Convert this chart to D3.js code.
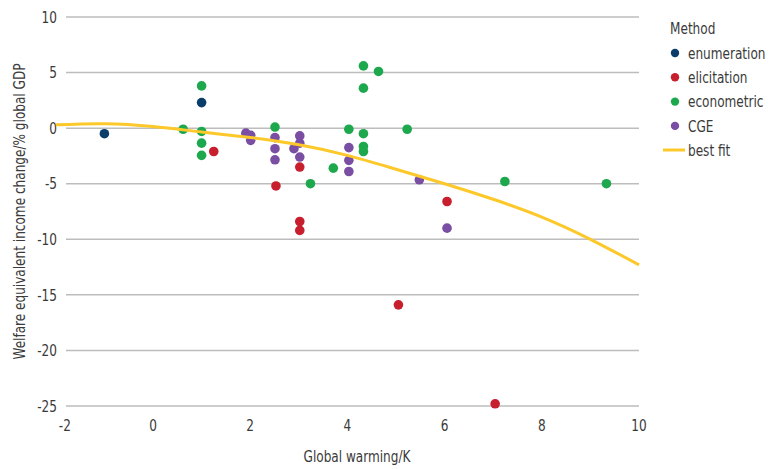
<!DOCTYPE html>
<html>
<head>
<meta charset="utf-8">
<script src="https://cdn.jsdelivr.net/npm/d3@7"></script>
<style>
  body { margin: 0; background: #fff; }
  text { font-family: "DejaVu Sans", sans-serif; font-stretch: condensed; fill: #3a3a3a; }
</style>
</head>
<body>
<div class="chart"></div>
<script>
// Data
var methods = ["enumeration", "elicitation", "econometric", "CGE"];
var methodColors = ["#0b3d6b", "#c71f2e", "#1ea84d", "#7a4ea3"];

var enumerationX = [-1, 1];
var enumerationY = [-0.5, 2.3];

var elicitationX = [1.25, 2.53, 3.02, 3.02, 3.02, 5.05, 6.05, 7.04];
var elicitationY = [-2.1, -5.2, -3.5, -8.4, -9.2, -15.9, -6.6, -24.8];

var econometricX = [0.62, 1, 1, 1, 1, 2.51, 3.24, 3.71, 4.03, 4.33, 4.33, 4.33, 4.33, 4.33, 4.64, 5.23, 7.24, 9.33];
var econometricY = [-0.1, 3.8, -0.3, -1.35, -2.45, 0.1, -5, -3.6, -0.1, 5.6, 3.6, -0.5, -1.65, -2.1, 5.1, -0.1, -4.8, -5];

var cgeX = [1.91, 2.01, 2.01, 2.51, 2.51, 2.51, 2.9, 3.02, 3.02, 3.02, 4.03, 4.03, 4.03, 5.48, 6.05];
var cgeY = [-0.45, -0.65, -1.1, -0.85, -1.85, -2.85, -1.85, -0.7, -1.35, -2.6, -1.75, -2.9, -3.9, -4.65, -9];

var fitX = [-2, -1, 0, 1, 2, 3, 4, 5, 6, 7, 8, 9, 10];
var fitY = [0.3, 0.4, 0.15, -0.35, -0.85, -1.5, -2.45, -3.7, -5, -6.4, -8, -10, -12.3];

var xTicks = [-2, 0, 2, 4, 6, 8, 10];
var yTicks = [10, 5, 0, -5, -10, -15, -20, -25];

var svgWidth = 769;
var svgHeight = 469;
var fontSize = "16px";

var svg = d3.select(".chart")
  .append("svg")
  .attr("width", svgWidth)
  .attr("height", svgHeight);

var xScale = d3.scaleLinear().domain([-2, 10]).range([55.8, 639]);
var yScale = d3.scaleLinear().domain([-25, 10]).range([406, 17]);
var gridLeft = 66;

// gridlines
svg.append("g").selectAll("line")
  .data(yTicks)
  .enter()
  .append("line")
  .attr("x1", gridLeft)
  .attr("x2", xScale(10))
  .attr("y1", d => yScale(d))
  .attr("y2", d => yScale(d))
  .attr("stroke", "#bdbdbd")
  .attr("stroke-width", 1.5);

// y tick labels
svg.append("g").selectAll("text")
  .data(yTicks)
  .enter()
  .append("text")
  .attr("x", 57)
  .attr("y", d => yScale(d))
  .attr("dy", "0.36em")
  .attr("text-anchor", "end")
  .attr("font-size", fontSize)
  .text(d => d);

// x tick labels
svg.append("g").selectAll("text")
  .data(xTicks)
  .enter()
  .append("text")
  .attr("x", (d, i) => xScale(d) + (i === 0 ? 9 : 0))
  .attr("y", 431)
  .attr("text-anchor", "middle")
  .attr("font-size", fontSize)
  .text(d => d);

// points
var groups = [
  {x: enumerationX, y: enumerationY},
  {x: elicitationX, y: elicitationY},
  {x: econometricX, y: econometricY},
  {x: cgeX, y: cgeY}
];

groups.forEach(function(g, gi) {
  var pts = g.x.map((v, i) => ({x: v, y: g.y[i]}));
  svg.append("g").selectAll("circle")
    .data(pts)
    .enter()
    .append("circle")
    .attr("cx", d => xScale(d.x))
    .attr("cy", d => yScale(d.y))
    .attr("r", 4.8)
    .attr("fill", methodColors[gi]);
});

// best fit curve
var fitPts = fitX.map((v, i) => [v, fitY[i]]);
var line = d3.line()
  .x(d => xScale(d[0]))
  .y(d => yScale(d[1]))
  .curve(d3.curveNatural);

svg.append("path")
  .datum(fitPts)
  .attr("d", line)
  .attr("fill", "none")
  .attr("stroke", "#fcc82a")
  .attr("stroke-width", 3);

// axis titles
svg.append("text")
  .attr("transform", `translate(25, ${(yScale(10) + yScale(-25)) / 2}) rotate(-90)`)
  .attr("text-anchor", "middle")
  .attr("font-size", fontSize)
  .text("Welfare equivalent income change/% global GDP");

svg.append("text")
  .attr("x", 357)
  .attr("y", 462)
  .attr("text-anchor", "middle")
  .attr("font-size", fontSize)
  .text("Global warming/K");

// legend
var legend = svg.append("g").attr("transform", "translate(663, 0)");
legend.append("text")
  .attr("x", 7)
  .attr("y", 34)
  .attr("font-size", fontSize)
  .text("Method");

methods.forEach(function(m, i) {
  var y = 53 + i * 24.3;
  legend.append("circle")
    .attr("cx", 12)
    .attr("cy", y)
    .attr("r", 4.2)
    .attr("fill", methodColors[i]);
  legend.append("text")
    .attr("x", 25)
    .attr("y", y)
    .attr("dy", "0.36em")
    .attr("font-size", fontSize)
    .text(m);
});

legend.append("line")
  .attr("x1", 0)
  .attr("x2", 22)
  .attr("y1", 150)
  .attr("y2", 150)
  .attr("stroke", "#fcc82a")
  .attr("stroke-width", 3);
legend.append("text")
  .attr("x", 25)
  .attr("y", 150)
  .attr("dy", "0.36em")
  .attr("font-size", fontSize)
  .text("best fit");

// squeeze all text a bit to mimic the narrow typeface
svg.selectAll("text").each(function() {
  var w = this.getComputedTextLength();
  d3.select(this)
    .attr("textLength", w * 0.84)
    .attr("lengthAdjust", "spacingAndGlyphs");
});
</script>
</body>
</html>
